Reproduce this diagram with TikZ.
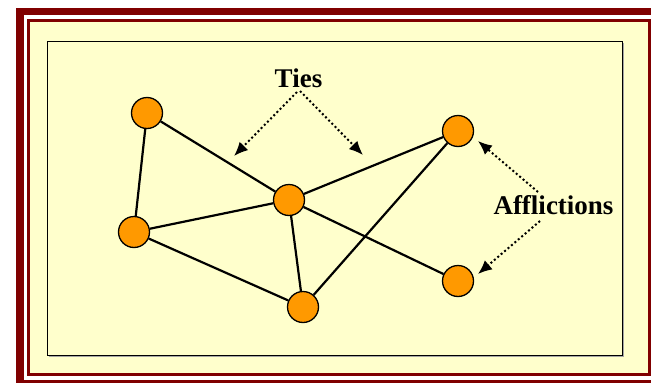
\documentclass[tikz,border=0pt]{standalone}
\usepackage{fontspec}
\setmainfont{Liberation Serif}
\usetikzlibrary{arrows.meta}
\definecolor{darkred}{HTML}{800000}
\definecolor{paleyellow}{HTML}{FFFFCC}
\definecolor{nodeorange}{HTML}{FF9900}
\begin{document}
\begin{tikzpicture}[x=1pt,y=-1pt,
  actor/.style={circle,draw=black,fill=nodeorange,line width=1.3pt,minimum size=31pt,inner sep=0pt},
  tie/.style={line width=2.2pt,black},
  pointer/.style={line width=2pt,dash pattern=on 2pt off 2.5pt,-{Latex[length=14pt,width=12pt]}},
  lbl/.style={font=\fontsize{27}{30}\selectfont\bfseries,inner sep=0pt,anchor=base}]
\useasboundingbox (0,0) rectangle (651,383);
% frames
\fill[white] (0,0) rectangle (651,383);
\fill[darkred] (16,8) rectangle (651,383);
\fill[white] (24,15) rectangle (651,380);
\fill[darkred] (27,19) rectangle (651,376);
\fill[paleyellow] (30,22) rectangle (648,373);
\draw[gray!70,line width=1pt] (48.5,356.5) -- (623.5,356.5) -- (623.5,42.5);
\draw[black,line width=1pt] (47,41) rectangle (622,355);
% actors
\node[actor] (a) at (147,113) {};
\node[actor] (b) at (134,232) {};
\node[actor] (c) at (289,200) {};
\node[actor] (d) at (303,307) {};
\node[actor] (e) at (458,131) {};
\node[actor] (f) at (458,281) {};
% ties
\draw[tie] (a) -- (b);
\draw[tie] (a) -- (c);
\draw[tie] (b) -- (c);
\draw[tie] (b) -- (d);
\draw[tie] (c) -- (d);
\draw[tie] (c) -- (e);
\draw[tie] (c) -- (f);
\draw[tie] (d) -- (e);
% labels
\node[lbl] (ties) at (298.5,87) {Ties};
\node[lbl] (affl) at (553.5,214) {Afflictions};
\coordinate (t1) at (297,92);
\coordinate (t2) at (300,91);
\coordinate (tl) at (234,156);
\coordinate (tr) at (363,155);
\coordinate (f1) at (538,192);
\coordinate (f2) at (540,221);
\coordinate (fu) at (478,141);
\coordinate (fd) at (478,274);
\draw[pointer] (t1) -- (tl);
\draw[pointer] (t2) -- (tr);
\draw[pointer] (f1) -- (fu);
\draw[pointer] (f2) -- (fd);
\end{tikzpicture}
\end{document}
